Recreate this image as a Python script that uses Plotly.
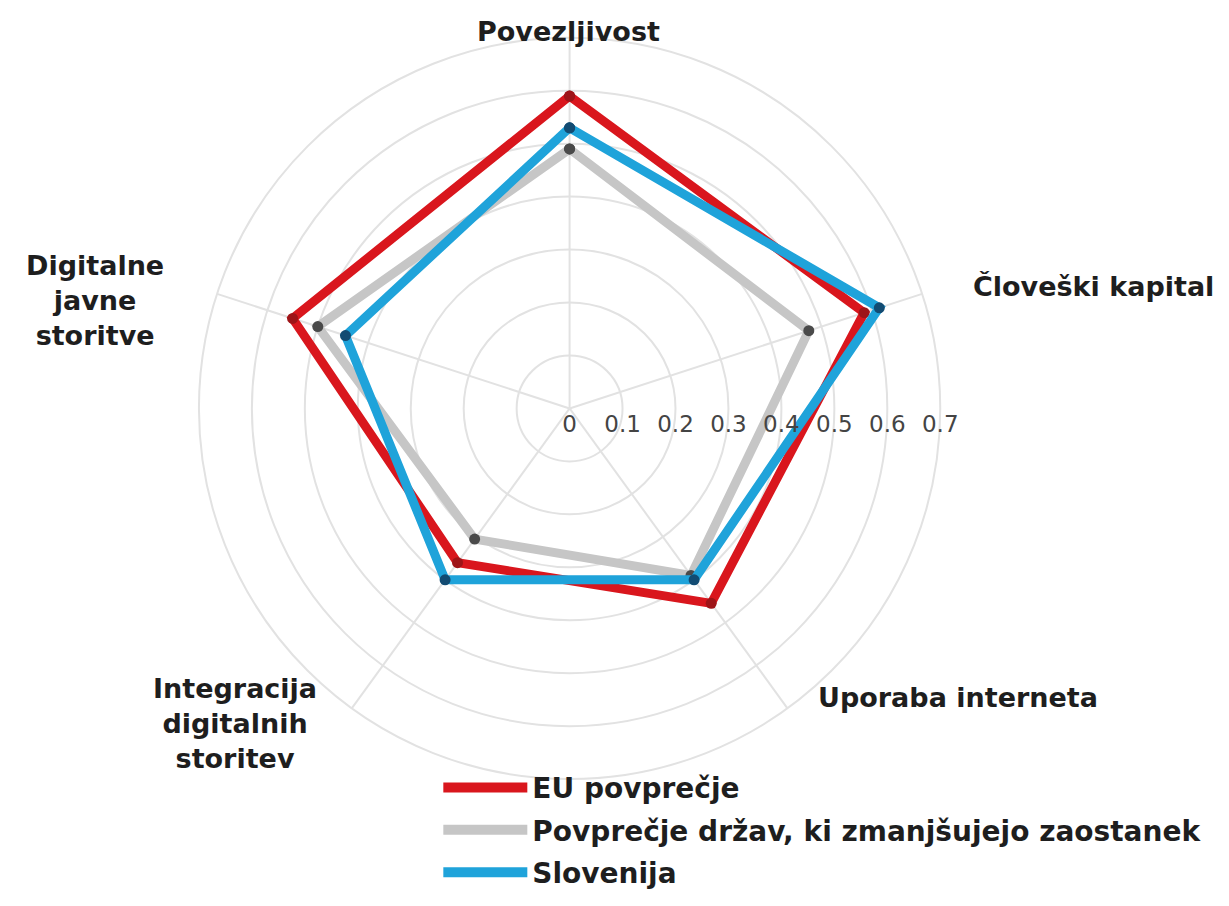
import plotly.graph_objects as go

CATEGORIES = [
    "Povezljivost",
    "Človeški kapital",
    "Uporaba interneta",
    "Integracija digitalnih storitev",
    "Digitalne javne storitve",
]
EU_AVG = [0.59, 0.585, 0.455, 0.36, 0.55]
CATCHING_UP = [0.49, 0.475, 0.39, 0.305, 0.50]
SLOVENIA = [0.53, 0.615, 0.40, 0.40, 0.445]
RADIAL_TICKS = [0, 0.1, 0.2, 0.3, 0.4, 0.5, 0.6, 0.7]

SERIES = [
    # name, values, line colour, vertex colour
    ("Povprečje držav, ki zmanjšujejo zaostanek", CATCHING_UP, "#C6C6C6", "#4A4A4A"),
    ("EU povprečje", EU_AVG, "#D9161D", "#9E1418"),
    ("Slovenija", SLOVENIA, "#1FA3DA", "#124B72"),
]
LEGEND_ORDER = ["EU povprečje", "Povprečje držav, ki zmanjšujejo zaostanek", "Slovenija"]

W, H = 1229, 906
BOLD = {"family": "DejaVu Sans, sans-serif", "color": "#1E1E1E", "weight": "bold"}
GRID = "#E2E2E2"


def closed(values):
    return list(values) + [values[0]]


fig = go.Figure()

for name, values, color, vertex in SERIES:
    fig.add_trace(
        go.Scatterpolar(
            r=closed(values),
            theta=closed(CATEGORIES),
            mode="lines+markers",
            name=name,
            line={"color": color, "width": 9},
            marker={"color": vertex, "size": 11},
            showlegend=False,
            hoverinfo="r+theta+name",
        )
    )

# legend-only entries so the legend shows plain thick lines in the reference order
colors = {name: color for name, _, color, _ in SERIES}
for i, name in enumerate(LEGEND_ORDER):
    fig.add_trace(
        go.Scatterpolar(
            r=[None],
            theta=[None],
            mode="lines",
            name=name,
            line={"color": colors[name], "width": 12},
            legendgroup=str(i),
            showlegend=True,
        )
    )

# category labels placed like the reference (outside the rings)
labels = [
    ("Povezljivost", 568, 24),
    ("Človeški kapital", 1100, 290),
    ("Uporaba interneta", 963, 718),
    ("Integracija<br>digitalnih<br>storitev", 230, 745),
    ("Digitalne<br>javne<br>storitve", 88, 305),
]
annotations = [
    dict(
        text=text,
        x=x / W,
        y=1 - y / H,
        xref="paper",
        yref="paper",
        xanchor="center",
        yanchor="middle",
        showarrow=False,
        font={**BOLD, "size": 27},
        align="center",
    )
    for text, x, y in labels
]

cx, cy, radius = 569, 417, 386
fig.update_layout(
    margin=dict(l=0, r=0, t=0, b=0),
    paper_bgcolor="white",
    plot_bgcolor="white",
    font={"family": "DejaVu Sans, sans-serif", "color": "#555555"},
    polar=dict(
        domain=dict(
            x=[(cx - radius) / W, (cx + radius) / W],
            y=[1 - (cy + radius) / H, 1 - (cy - radius) / H],
        ),
        bgcolor="white",
        radialaxis=dict(
            range=[0, 0.7],
            tickvals=RADIAL_TICKS,
            ticktext=[f"{v:g}" for v in RADIAL_TICKS],
            angle=0,
            tickangle=0,
            showline=False,
            ticks="",
            gridcolor=GRID,
            gridwidth=2,
            tickfont={"size": 23, "color": "#444444"},
        ),
        angularaxis=dict(
            rotation=90,
            direction="clockwise",
            categoryarray=CATEGORIES,
            showticklabels=False,
            ticks="",
            gridcolor=GRID,
            gridwidth=1.5,
            linecolor=GRID,
            linewidth=2,
        ),
    ),
    legend=dict(
        x=436 / W,
        y=1 - 786 / H,
        xanchor="left",
        yanchor="top",
        font={**BOLD, "size": 28},
        itemwidth=84,
        tracegroupgap=3,
        bgcolor="rgba(0,0,0,0)",
    ),
    annotations=annotations,
)

fig.write_html("out.html")
